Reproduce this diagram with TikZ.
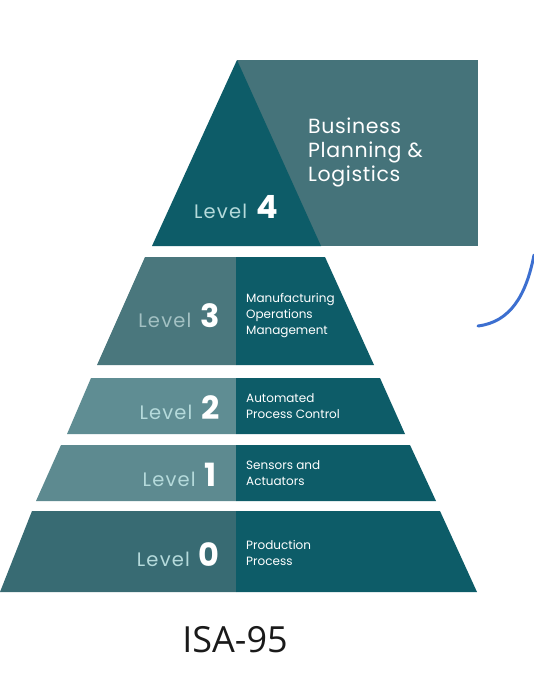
\documentclass[tikz,border=0pt]{standalone}
\usepackage{fontspec}
\setmainfont{Poppins}
\newfontfamily\isafont{Open Sans}
\newfontfamily\spacedfont[LetterSpace=6]{Poppins}
\newfontfamily\bizfont[LetterSpace=3]{Poppins}
\definecolor{dark}{HTML}{0D5C68}
\definecolor{rectc}{HTML}{45737A}
\definecolor{l3left}{HTML}{4A777D}
\definecolor{l2left}{HTML}{5F8D93}
\definecolor{l1left}{HTML}{5D8A90}
\definecolor{l0left}{HTML}{386B73}
\definecolor{lvltxt}{HTML}{B5DADB}
\definecolor{lvltxtb}{HTML}{A3C1C3}
\definecolor{arcblue}{HTML}{3C6FD0}
\definecolor{isatxt}{HTML}{1A1A1A}
\tikzset{
  lvlnode/.style={anchor=base east, inner sep=0pt, text=white},
  desc/.style={anchor=west, inner sep=0pt, align=left, text=white, font=\fontsize{12}{16}\selectfont},
}
\newcommand{\lvl}[2][lvltxt]{{\spacedfont\fontsize{19.5}{21}\selectfont\color{#1}Level}\hspace{9pt}{\fontsize{32}{34}\selectfont\bfseries #2}}
\begin{document}
\begin{tikzpicture}[x=1pt,y=-1pt]
\useasboundingbox[fill=white] (0,0) rectangle (534,696);
% Level 4
\fill[rectc] (237,60) rectangle (478,246);
\fill[dark] (237,60) -- (321,246) -- (152,246) -- cycle;
% Level 3
\fill[l3left] (145,257) -- (236,257) -- (236,365) -- (97,365) -- cycle;
\fill[dark] (236,257) -- (325,257) -- (374,365) -- (236,365) -- cycle;
% Level 2
\fill[l2left] (91,378) -- (236,378) -- (236,434) -- (67,434) -- cycle;
\fill[dark] (236,378) -- (380,378) -- (405,434) -- (236,434) -- cycle;
% Level 1
\fill[l1left] (61,445) -- (236,445) -- (236,501) -- (36,501) -- cycle;
\fill[dark] (236,445) -- (410,445) -- (436,501) -- (236,501) -- cycle;
% Level 0
\fill[l0left] (32,511) -- (236,511) -- (236,592) -- (0,592) -- cycle;
\fill[dark] (236,511) -- (440,511) -- (477,592) -- (236,592) -- cycle;
% labels
\node[lvlnode] (lv4) at (278,218) {\lvl{4}};
\node[lvlnode] (lv3) at (220,327) {\lvl[lvltxtb]{3}};
\node[lvlnode] (lv2) at (220,419) {\lvl{2}};
\node[lvlnode] (lv1) at (217,486) {\lvl{1}};
\node[lvlnode] (lv0) at (220,566) {\lvl{0}};
\node[desc, font=\bizfont\fontsize{20.5}{24}\selectfont] (d4) at (308,152) {Business\\Planning \&\\Logistics};
\node[desc] (d3) at (246,316) {Manufacturing\\Operations\\Management};
\node[desc] (d2) at (246,406) {Automated\\Process Control};
\node[desc] (d1) at (246,473) {Sensors and\\Actuators};
\node[desc] (d0) at (246,553) {Production\\Process};
\node[inner sep=0pt, text=isatxt, font=\isafont\fontsize{36}{40}\selectfont] (isa) at (235,640) {ISA-95};
% blue arc
\coordinate (a0) at (478,326);
\coordinate (a1) at (534,255);
\draw[arcblue, line width=3pt, line cap=round] (a0) .. controls (510,322) and (526,296) .. (a1);
\end{tikzpicture}
\end{document}
